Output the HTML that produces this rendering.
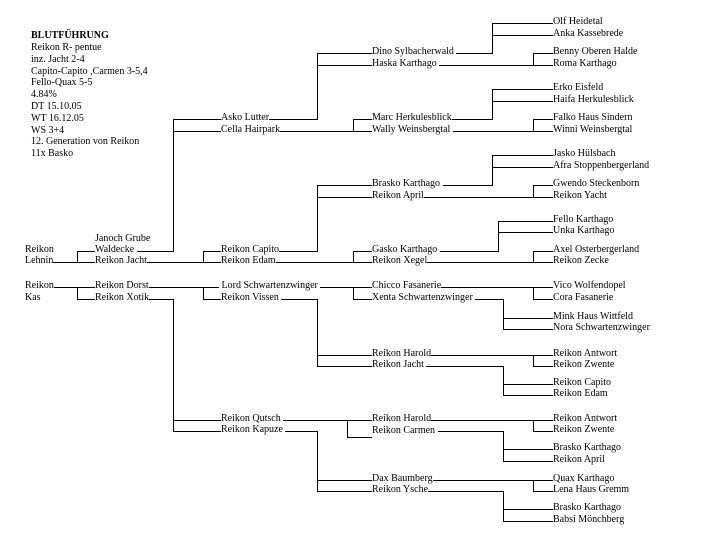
<!DOCTYPE html>
<html><head><meta charset="utf-8">
<style>
html,body{margin:0;padding:0}
body{width:720px;height:540px;background:#fff;position:relative;overflow:hidden}
.h{position:absolute;height:1px;background:#000}
.v{position:absolute;width:1px;background:#000}
.t{position:absolute;margin-top:1px;font-family:"Liberation Serif",serif;font-size:10px;line-height:12px;white-space:pre;background:#fff;color:#000}
.hd{position:absolute;left:31px;top:30.2px;font-family:"Liberation Serif",serif;font-size:10px;line-height:11.8px;white-space:pre;color:#000}
</style></head><body>
<div class="hd"><b>BLUTFÜHRUNG</b>
Reikon R- pentue
inz. Jacht 2-4
Capito-Capito ,Carmen 3-5,4
Fello-Quax 5-5
4.84%
DT 15.10.05
WT 16.12.05
WS 3+4
12. Generation von Reikon
11x Basko</div>

<!-- col1 lines -->
<div class="h" style="left:25px;top:262px;width:70px"></div>
<div class="h" style="left:77px;top:251px;width:18px"></div>
<div class="v" style="left:77px;top:251px;height:12px"></div>
<div class="h" style="left:25px;top:287px;width:70px"></div>
<div class="h" style="left:77px;top:299px;width:18px"></div>
<div class="v" style="left:77px;top:287px;height:13px"></div>

<!-- col2 lines -->
<div class="h" style="left:95px;top:251px;width:78px"></div>
<div class="h" style="left:95px;top:262px;width:126px"></div>
<div class="h" style="left:203px;top:251px;width:18px"></div>
<div class="v" style="left:203px;top:251px;height:12px"></div>
<div class="h" style="left:95px;top:287px;width:126px"></div>
<div class="h" style="left:203px;top:299px;width:18px"></div>
<div class="v" style="left:203px;top:287px;height:13px"></div>
<div class="h" style="left:95px;top:299px;width:78px"></div>
<div class="v" style="left:173px;top:119px;height:133px"></div>
<div class="v" style="left:173px;top:299px;height:133px"></div>
<div class="h" style="left:173px;top:119px;width:48px"></div>
<div class="h" style="left:173px;top:131px;width:48px"></div>
<div class="h" style="left:173px;top:420px;width:48px"></div>
<div class="h" style="left:173px;top:431px;width:48px"></div>

<!-- col3 lines -->
<div class="h" style="left:221px;top:119px;width:96px"></div>
<div class="v" style="left:317px;top:53px;height:67px"></div>
<div class="h" style="left:317px;top:53px;width:55px"></div>
<div class="h" style="left:317px;top:65px;width:55px"></div>
<div class="h" style="left:221px;top:131px;width:151px"></div>
<div class="v" style="left:353px;top:119px;height:13px"></div>
<div class="h" style="left:353px;top:119px;width:19px"></div>

<div class="h" style="left:221px;top:251px;width:96px"></div>
<div class="v" style="left:317px;top:185px;height:67px"></div>
<div class="h" style="left:317px;top:185px;width:55px"></div>
<div class="h" style="left:317px;top:197px;width:55px"></div>
<div class="h" style="left:221px;top:262px;width:151px"></div>
<div class="v" style="left:353px;top:251px;height:12px"></div>
<div class="h" style="left:353px;top:251px;width:19px"></div>

<div class="h" style="left:221px;top:287px;width:151px"></div>
<div class="v" style="left:353px;top:287px;height:13px"></div>
<div class="h" style="left:353px;top:299px;width:19px"></div>
<div class="h" style="left:221px;top:299px;width:96px"></div>
<div class="v" style="left:317px;top:299px;height:68px"></div>
<div class="h" style="left:317px;top:355px;width:55px"></div>
<div class="h" style="left:317px;top:366px;width:55px"></div>

<div class="h" style="left:221px;top:420px;width:151px"></div>
<div class="v" style="left:347px;top:420px;height:18px"></div>
<div class="h" style="left:347px;top:437px;width:25px"></div>
<div class="h" style="left:221px;top:431px;width:96px"></div>
<div class="v" style="left:317px;top:431px;height:61px"></div>
<div class="h" style="left:317px;top:480px;width:55px"></div>
<div class="h" style="left:317px;top:491px;width:55px"></div>

<!-- col4 lines -->
<div class="h" style="left:372px;top:53px;width:120px"></div>
<div class="v" style="left:492px;top:23px;height:31px"></div>
<div class="h" style="left:492px;top:23px;width:61px"></div>
<div class="h" style="left:492px;top:35px;width:61px"></div>
<div class="h" style="left:372px;top:65px;width:181px"></div>
<div class="v" style="left:533px;top:53px;height:13px"></div>
<div class="h" style="left:533px;top:53px;width:20px"></div>

<div class="h" style="left:372px;top:119px;width:120px"></div>
<div class="v" style="left:492px;top:89px;height:31px"></div>
<div class="h" style="left:492px;top:89px;width:61px"></div>
<div class="h" style="left:492px;top:101px;width:61px"></div>
<div class="h" style="left:372px;top:131px;width:181px"></div>
<div class="v" style="left:533px;top:119px;height:13px"></div>
<div class="h" style="left:533px;top:119px;width:20px"></div>

<div class="h" style="left:372px;top:185px;width:120px"></div>
<div class="v" style="left:492px;top:155px;height:31px"></div>
<div class="h" style="left:492px;top:155px;width:61px"></div>
<div class="h" style="left:492px;top:167px;width:61px"></div>
<div class="h" style="left:372px;top:197px;width:181px"></div>
<div class="v" style="left:533px;top:185px;height:13px"></div>
<div class="h" style="left:533px;top:185px;width:20px"></div>

<div class="h" style="left:372px;top:251px;width:126px"></div>
<div class="v" style="left:498px;top:221px;height:31px"></div>
<div class="h" style="left:498px;top:221px;width:55px"></div>
<div class="h" style="left:498px;top:232px;width:55px"></div>
<div class="h" style="left:372px;top:262px;width:181px"></div>
<div class="v" style="left:533px;top:251px;height:12px"></div>
<div class="h" style="left:533px;top:251px;width:20px"></div>

<div class="h" style="left:372px;top:287px;width:181px"></div>
<div class="v" style="left:533px;top:287px;height:13px"></div>
<div class="h" style="left:533px;top:299px;width:20px"></div>
<div class="h" style="left:372px;top:299px;width:131px"></div>
<div class="v" style="left:503px;top:299px;height:31px"></div>
<div class="h" style="left:503px;top:318px;width:50px"></div>
<div class="h" style="left:503px;top:329px;width:50px"></div>

<div class="h" style="left:372px;top:355px;width:181px"></div>
<div class="v" style="left:533px;top:355px;height:12px"></div>
<div class="h" style="left:533px;top:366px;width:20px"></div>
<div class="h" style="left:372px;top:366px;width:131px"></div>
<div class="v" style="left:503px;top:366px;height:30px"></div>
<div class="h" style="left:503px;top:384px;width:50px"></div>
<div class="h" style="left:503px;top:395px;width:50px"></div>

<div class="h" style="left:372px;top:420px;width:181px"></div>
<div class="v" style="left:533px;top:420px;height:12px"></div>
<div class="h" style="left:533px;top:431px;width:20px"></div>
<div class="h" style="left:372px;top:431px;width:131px"></div>
<div class="v" style="left:503px;top:431px;height:31px"></div>
<div class="h" style="left:503px;top:449px;width:50px"></div>
<div class="h" style="left:503px;top:461px;width:50px"></div>

<div class="h" style="left:372px;top:480px;width:181px"></div>
<div class="v" style="left:533px;top:480px;height:12px"></div>
<div class="h" style="left:533px;top:491px;width:20px"></div>
<div class="h" style="left:372px;top:491px;width:131px"></div>
<div class="v" style="left:503px;top:491px;height:31px"></div>
<div class="h" style="left:503px;top:509px;width:50px"></div>
<div class="h" style="left:503px;top:521px;width:50px"></div>

<!-- col1 text -->
<div class="t" style="left:25px;top:242.6px">Reikon</div>
<div class="t" style="left:25px;top:253.6px">Lehnin</div>
<div class="t" style="left:25px;top:278.6px">Reikon</div>
<div class="t" style="left:25px;top:290.6px">Kas</div>

<!-- col2 text -->
<div class="t" style="left:95px;top:231.6px">Janoch Grube</div>
<div class="t" style="left:95px;top:242.6px">Waldecke </div>
<div class="t" style="left:95px;top:253.6px">Reikon Jacht</div>
<div class="t" style="left:95px;top:278.6px">Reikon Dorst</div>
<div class="t" style="left:95px;top:290.6px">Reikon Xotik</div>

<!-- col3 text -->
<div class="t" style="left:221px;top:110.6px">Asko Lutter</div>
<div class="t" style="left:221px;top:122.6px">Cella Hairpark</div>
<div class="t" style="left:221px;top:242.6px">Reikon Capito</div>
<div class="t" style="left:221px;top:253.6px">Reikon Edam</div>
<div class="t" style="left:219px;top:278.6px"> Lord Schwartenzwinger </div>
<div class="t" style="left:221px;top:290.6px">Reikon Vissen </div>
<div class="t" style="left:221px;top:411.6px">Reikon Qutsch </div>
<div class="t" style="left:221px;top:422.6px">Reikon Kapuze </div>

<!-- col4 text -->
<div class="t" style="left:372px;top:44.6px">Dino Sylbacherwald </div>
<div class="t" style="left:372px;top:56.6px">Haska Karthago </div>
<div class="t" style="left:372px;top:110.6px">Marc Herkulesblick</div>
<div class="t" style="left:372px;top:122.6px">Wally Weinsbergtal </div>
<div class="t" style="left:372px;top:176.6px">Brasko Karthago </div>
<div class="t" style="left:372px;top:188.6px">Reikon April</div>
<div class="t" style="left:372px;top:242.6px">Gasko Karthago </div>
<div class="t" style="left:372px;top:253.6px">Reikon Xegel</div>
<div class="t" style="left:372px;top:278.6px">Chicco Fasanerie</div>
<div class="t" style="left:372px;top:290.6px">Xenta Schwartenzwinger </div>
<div class="t" style="left:372px;top:346.6px">Reikon Harold</div>
<div class="t" style="left:372px;top:357.6px">Reikon Jacht </div>
<div class="t" style="left:372px;top:411.6px">Reikon Harold</div>
<div class="t" style="left:372px;top:423.6px">Reikon Carmen </div>
<div class="t" style="left:372px;top:471.6px">Dax Baumberg</div>
<div class="t" style="left:372px;top:482.6px">Reikon Ysche</div>

<!-- col5 text -->
<div class="t" style="left:553px;top:14.6px">Olf Heidetal</div>
<div class="t" style="left:553px;top:26.6px">Anka Kassebrede</div>
<div class="t" style="left:553px;top:44.6px">Benny Oberen Halde</div>
<div class="t" style="left:553px;top:56.6px">Roma Karthago</div>
<div class="t" style="left:553px;top:80.6px">Erko Eisfeld</div>
<div class="t" style="left:553px;top:92.6px">Haifa Herkulesblick</div>
<div class="t" style="left:553px;top:110.6px">Falko Haus Sindern</div>
<div class="t" style="left:553px;top:122.6px">Winni Weinsbergtal</div>
<div class="t" style="left:553px;top:146.6px">Jasko Hülsbach</div>
<div class="t" style="left:553px;top:158.6px">Afra Stoppenbergerland</div>
<div class="t" style="left:553px;top:176.6px">Gwendo Steckenborn</div>
<div class="t" style="left:553px;top:188.6px">Reikon Yacht</div>
<div class="t" style="left:553px;top:212.6px">Fello Karthago</div>
<div class="t" style="left:553px;top:223.6px">Unka Karthago</div>
<div class="t" style="left:553px;top:242.6px">Axel Osterbergerland</div>
<div class="t" style="left:553px;top:253.6px">Reikon Zecke</div>
<div class="t" style="left:553px;top:278.6px">Vico Wolfendopel</div>
<div class="t" style="left:553px;top:290.6px">Cora Fasanerie</div>
<div class="t" style="left:553px;top:309.6px">Mink Haus Wittfeld</div>
<div class="t" style="left:553px;top:320.6px">Nora Schwartenzwinger</div>
<div class="t" style="left:553px;top:346.6px">Reikon Antwort</div>
<div class="t" style="left:553px;top:357.6px">Reikon Zwente</div>
<div class="t" style="left:553px;top:375.6px">Reikon Capito</div>
<div class="t" style="left:553px;top:386.6px">Reikon Edam</div>
<div class="t" style="left:553px;top:411.6px">Reikon Antwort</div>
<div class="t" style="left:553px;top:422.6px">Reikon Zwente</div>
<div class="t" style="left:553px;top:440.6px">Brasko Karthago</div>
<div class="t" style="left:553px;top:452.6px">Reikon April</div>
<div class="t" style="left:553px;top:471.6px">Quax Karthago</div>
<div class="t" style="left:553px;top:482.6px">Lena Haus Gremm</div>
<div class="t" style="left:553px;top:500.6px">Brasko Karthago</div>
<div class="t" style="left:553px;top:512.6px">Babsi Mönchberg</div>
</body></html>
